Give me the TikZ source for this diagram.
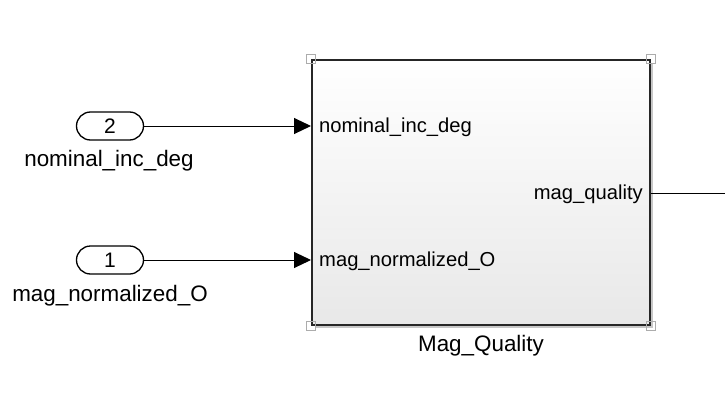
\documentclass[tikz,border=0pt]{standalone}
\usepackage{fontspec}
\setmainfont{Liberation Sans}
\usetikzlibrary{arrows.meta,positioning,shadows}

\begin{document}
\begin{tikzpicture}[x=1pt,y=-1pt,
          lbl/.style={font=\fontsize{22.4}{26}\selectfont,inner sep=0pt},
          plbl/.style={font=\fontsize{20.2}{24}\selectfont,inner sep=0pt},
          inport/.style={draw,line width=1.3pt,rounded corners=14pt,minimum width=67pt,minimum height=28pt,inner sep=0pt,font=\fontsize{21}{24}\selectfont},
          block/.style={draw=black!85,line width=2pt,top color=white,bottom color=gray!18,minimum width=338pt,minimum height=265pt,
                        drop shadow={shadow xshift=2.5pt,shadow yshift=-2.5pt,fill=gray!55,opacity=0.8}},
          handle/.style={draw=gray!65,line width=0.9pt,minimum size=9pt,inner sep=0pt},
          sig/.style={line width=1pt,-{Triangle[length=17pt,width=16pt]}}]
        \useasboundingbox (0,0) rectangle (725,415);
        \node[block] (mq) at (481,192.5) {};
        \foreach \a/\n in {north west/nw,north east/ne,south west/sw,south east/se}
          \node[handle] (h\n) at (mq.\a) {};
        \node[plbl,anchor=west] (pinc) at (319,127) {nominal\_inc\_deg};
        \node[plbl,anchor=west] (pmag) at (319,261) {mag\_normalized\_O};
        \node[plbl,anchor=east] (pq) at (643,194) {mag\_quality};
        \node[lbl] (mqlbl) at (481,346) {Mag\_Quality};
        \node[inport] (in2) at (110,126) {2};
        \node[lbl] (in2lbl) at (109,161) {nominal\_inc\_deg};
        \node[inport] (in1) at (110,260) {1};
        \node[lbl] (in1lbl) at (110,296) {mag\_normalized\_O};
        \coordinate (out) at (725,193);
        \draw[sig] (in2) -- (in2 -| mq.west);
        \draw[sig] (in1) -- (in1 -| mq.west);
        \draw[line width=1pt] (mq.east |- out) -- (out);
      \end{tikzpicture}
\end{document}
